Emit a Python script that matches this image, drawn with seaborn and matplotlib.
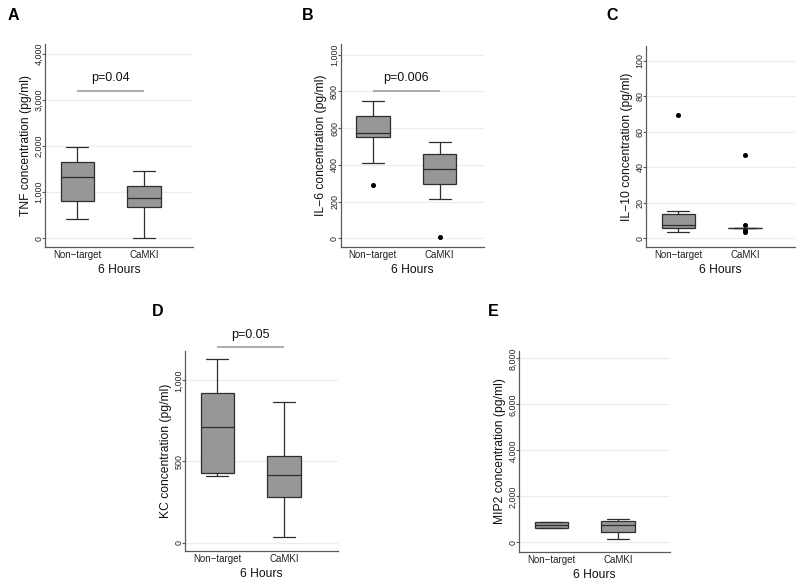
import matplotlib
matplotlib.use("Agg")
import matplotlib.pyplot as plt
import matplotlib.ticker as mticker
import seaborn as sns
import pandas as pd

sns.set_theme(style="white")
plt.rcParams['font.family'] = ['Liberation Sans', 'DejaVu Sans']

# ---------------- data ----------------
groups = ["Non−target", "CaMKI"]
xlabel = "6 Hours"

tnf_nt = [413, 804, 1326, 1646, 1972]
tnf_ca = [0, 678, 870, 1138, 1449]

il6_nt = [292, 409, 551, 560, 576, 620, 667, 700, 750]
il6_ca = [7, 217, 295, 340, 377, 420, 458, 500, 527]

il10_nt = [3.4, 5.0, 6.0, 7.0, 7.7, 10.0, 13.6, 15.4, 69.3]
il10_ca = [3.4, 4.5, 6.0, 6.0, 6.0, 6.0, 6.0, 7.3, 46.9]

kc_nt = [409, 426, 712, 923, 1130]
kc_ca = [37, 280, 414, 535, 864]

mip2_nt = [609, 609, 739, 870, 870]
mip2_ca = [143, 461, 752, 939, 1009]

ylabels = ["TNF concentration (pg/ml)", "IL−6 concentration (pg/ml)",
           "IL−10 concentration (pg/ml)", "KC concentration (pg/ml)",
           "MIP2 concentration (pg/ml)"]
letters = ["A", "B", "C", "D", "E"]
yticks = [[0, 1000, 2000, 3000, 4000],
          [0, 200, 400, 600, 800, 1000],
          [0, 20, 40, 60, 80, 100],
          [0, 500, 1000],
          [0, 2000, 4000, 6000, 8000]]
pvals = ["p=0.04", "p=0.006", None, "p=0.05", None]
pline_y = [3200, 800, None, 1206, None]
ptext_y = [3480, 871, None, 1280, None]

series = [(tnf_nt, tnf_ca), (il6_nt, il6_ca), (il10_nt, il10_ca),
          (kc_nt, kc_ca), (mip2_nt, mip2_ca)]

# ---------------- layout (pixels) ----------------
W, H = 800, 586
boxes_px = [(45, 193, 44, 247), (340.5, 484, 44, 247), (646, 795, 45.7, 247),
            (185, 337.5, 351, 551), (519, 670, 351, 551.7)]
ylims = [(-189, 4210), (-47, 1058), (-4.9, 108.6), (-52, 1181), (-409, 8317)]
letter_pos = [(13.3, 15), (307.5, 15), (611.7, 15), (157.5, 311), (493, 311)]

fig = plt.figure(figsize=(W / 100, H / 100), dpi=100)

box_fill = "#979797"
line_col = "#2e2e2e"
spine_col = "#5a5a5a"

for i, (nt, ca) in enumerate(series):
    l, r, t, b = boxes_px[i]
    ax = fig.add_axes([l / W, 1 - b / H, (r - l) / W, (b - t) / H])
    df = pd.DataFrame({
        "group": [groups[0]] * len(nt) + [groups[1]] * len(ca),
        "value": list(nt) + list(ca),
    })
    sns.boxplot(data=df, x="group", y="value", order=groups, ax=ax,
                color=box_fill, linecolor=line_col, linewidth=0.9,
                width=0.5, fliersize=2.6, capwidths=0.33,
                flierprops=dict(marker="o", markerfacecolor="black",
                                markeredgecolor="black"))
    width_units = (r - l) / 66.7
    ax.set_xlim(-0.485, -0.485 + width_units)
    ax.set_ylim(*ylims[i])
    ax.set_yticks(yticks[i])
    ax.yaxis.set_major_formatter(mticker.FuncFormatter(lambda v, p: f"{v:,.0f}"))
    ax.yaxis.grid(True, color="#ececec", lw=0.8)
    ax.set_axisbelow(True)
    for s in ["top", "right"]:
        ax.spines[s].set_visible(False)
    for s in ["left", "bottom"]:
        ax.spines[s].set_color(spine_col)
        ax.spines[s].set_linewidth(0.9)
    ax.tick_params(axis="y", which="major", left=True, length=2.2, width=0.8,
                   color=spine_col, pad=-1.2, labelsize=6.4, labelcolor="#222222",
                   rotation=90)
    for lab in ax.get_yticklabels():
        lab.set_va("center")
    ax.tick_params(axis="x", bottom=False, length=0, pad=2.5, labelsize=7,
                   labelcolor="#222222")
    ax.set_xlabel(xlabel, fontsize=8.7, labelpad=2.5, color="#111111")
    ax.set_ylabel(ylabels[i], fontsize=8.7, labelpad=2.2, color="#111111")

    if pvals[i] is not None:
        ax.plot([0, 1], [pline_y[i], pline_y[i]], color="#a0a0a0", lw=1.2,
                clip_on=False, solid_capstyle="butt")
        ax.text(0.49, ptext_y[i], pvals[i], ha="center", va="center",
                fontsize=9, color="#111111", clip_on=False)

    lx, ly = letter_pos[i]
    fig.text(lx / W, 1 - ly / H, letters[i], ha="center", va="center",
             fontsize=11.5, fontweight="bold", color="black")

fig.savefig("out.png", dpi=100, facecolor="white")
